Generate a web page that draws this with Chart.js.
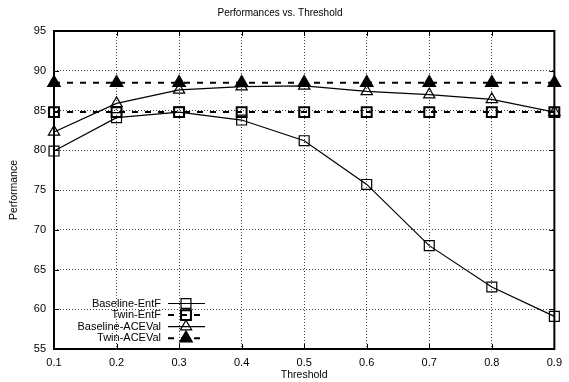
<!DOCTYPE html>
<html>
<head>
  <script src="https://cdn.jsdelivr.net/npm/chart.js"></script>
  <style>
    html, body { margin: 0; padding: 0; background: #fff; }
    #wrap { width: 569px; height: 382px; }
  </style>
</head>
<body>
  <div id="wrap"><canvas id="perfChart" width="569" height="382"></canvas></div>
  <script>
    // values
    const thresholds = ['0.1', '0.2', '0.3', '0.4', '0.5', '0.6', '0.7', '0.8', '0.9'];
    const baselineEntF = [79.9, 84.1, 84.8, 83.8, 81.2, 75.7, 68.0, 62.8, 59.1];
    const twinEntF = [84.8, 84.8, 84.8, 84.8, 84.8, 84.8, 84.8, 84.8, 84.8];
    const baselineACEVal = [82.3, 85.9, 87.6, 88.0, 88.1, 87.4, 87.0, 86.4, 84.8];
    const twinACEVal = [88.5, 88.5, 88.5, 88.5, 88.5, 88.5, 88.5, 88.5, 88.5];
    const yTicks = [55, 60, 65, 70, 75, 80, 85, 90, 95];

    const FONT = 'Liberation Sans, Arial, Helvetica, sans-serif';

    // frame, inward tick marks and the gnuplot style key
    const framePlugin = {
      id: 'frame',
      afterDatasetsDraw(chart) {
        const ctx = chart.ctx;
        const a = chart.chartArea;
        const xs = chart.scales.x, ys = chart.scales.y;
        ctx.save();
        ctx.strokeStyle = '#000';
        ctx.lineWidth = 1;
        ctx.beginPath();
        thresholds.forEach((t, i) => {
          const px = Math.round(xs.getPixelForValue(i)) + 0.5;
          ctx.moveTo(px, a.bottom); ctx.lineTo(px, a.bottom - 5);
          ctx.moveTo(px, a.top); ctx.lineTo(px, a.top + 5);
        });
        yTicks.forEach(v => {
          const py = Math.round(ys.getPixelForValue(v)) + 0.5;
          ctx.moveTo(a.left, py); ctx.lineTo(a.left + 5, py);
          ctx.moveTo(a.right, py); ctx.lineTo(a.right - 5, py);
        });
        ctx.stroke();
        ctx.lineWidth = 2;
        ctx.strokeRect(a.left, a.top, a.right - a.left, a.bottom - a.top);

        // key
        ctx.font = '11px ' + FONT;
        ctx.textAlign = 'right';
        ctx.textBaseline = 'middle';
        const textRight = a.left + 107;
        const x1 = a.left + 114, x2 = a.left + 151, xm = a.left + 132;
        chart.data.datasets.forEach((ds, i) => {
          const y = a.bottom - 45.5 + i * 11.6;
          ctx.fillStyle = '#000';
          ctx.fillText(ds.label, textRight, y);
          ctx.save();
          ctx.lineWidth = ds.borderWidth;
          ctx.strokeStyle = '#000';
          ctx.setLineDash(ds.borderDash || []);
          ctx.beginPath();
          ctx.moveTo(x1, y); ctx.lineTo(x2, y);
          ctx.stroke();
          ctx.restore();
          ctx.save();
          ctx.fillStyle = ds.pointBackgroundColor;
          ctx.strokeStyle = '#000';
          ctx.lineWidth = ds.pointBorderWidth;
          Chart.helpers.drawPoint(ctx, {
            pointStyle: ds.pointStyle,
            radius: ds.pointRadius,
            borderWidth: ds.pointBorderWidth,
            rotation: 0
          }, xm, y);
          ctx.restore();
        });
        ctx.restore();
      }
    };

    function series(label, data, style, dashed, filled) {
      return {
        label: label,
        data: data,
        borderColor: '#000',
        borderWidth: dashed ? 2 : 1.2,
        borderDash: dashed ? [6, 7] : [],
        pointStyle: style,
        pointRadius: style === 'rect' ? 7 : 6.5,
        pointHoverRadius: style === 'rect' ? 7 : 6.5,
        pointBorderWidth: dashed ? 2 : 1.2,
        pointBorderColor: '#000',
        pointBackgroundColor: filled ? '#000' : 'rgba(255,255,255,0)',
        backgroundColor: 'rgba(0,0,0,0)',
        fill: false,
        tension: 0,
        clip: false
      };
    }

    const ctx = document.getElementById('perfChart').getContext('2d');
    const myChart = new Chart(ctx, {
      type: 'line',
      data: {
        labels: thresholds,
        datasets: [
          series('Baseline-EntF', baselineEntF, 'rect', false, false),
          series('Twin-EntF', twinEntF, 'rect', true, false),
          series('Baseline-ACEVal', baselineACEVal, 'triangle', false, false),
          series('Twin-ACEVal', twinACEVal, 'triangle', true, true)
        ]
      },
      options: {
        responsive: false,
        animation: false,
        devicePixelRatio: 1,
        layout: { padding: { left: 0, right: 9, top: 0, bottom: 0 } },
        plugins: {
          legend: { display: false },
          tooltip: { enabled: false },
          title: {
            display: true,
            text: 'Performances vs. Threshold',
            color: '#000',
            font: { family: FONT, size: 10, weight: 'normal' },
            padding: { top: 7, bottom: 12 }
          }
        },
        scales: {
          x: {
            type: 'category',
            offset: false,
            grid: { color: '#444', drawTicks: false, lineWidth: 1 },
            border: { display: false, dash: [1, 2] },
            ticks: {
              color: '#000',
              font: { family: FONT, size: 11 },
              padding: 7,
              maxRotation: 0,
              autoSkip: false
            },
            title: {
              display: true,
              text: 'Threshold',
              color: '#000',
              font: { family: FONT, size: 10.5 },
              padding: { top: 0, bottom: 1 }
            },
            afterFit(scale) { scale.height = 33; }
          },
          y: {
            min: 55,
            max: 95,
            grid: { color: '#444', drawTicks: false, lineWidth: 1 },
            border: { display: false, dash: [1, 2] },
            ticks: {
              stepSize: 5,
              color: '#000',
              font: { family: FONT, size: 11 },
              padding: 8
            },
            title: {
              display: true,
              text: 'Performance',
              color: '#000',
              font: { family: FONT, size: 10.5 },
              padding: { top: 8, bottom: 0 }
            },
            afterFit(scale) { scale.width = 54; }
          }
        }
      },
      plugins: [framePlugin]
    });
  </script>
</body>
</html>
